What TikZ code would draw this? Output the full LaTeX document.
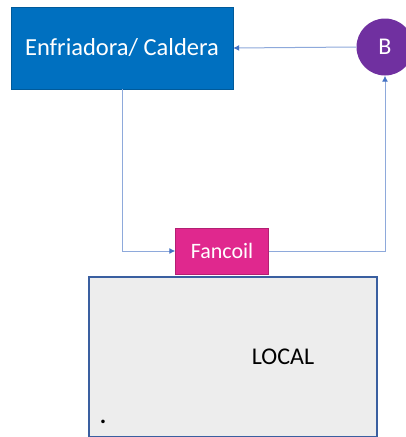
\documentclass[tikz,border=0pt]{standalone}
\usepackage{fontspec}
\setmainfont{Carlito}
\usetikzlibrary{arrows.meta}
\definecolor{azulcal}{HTML}{0070C0}
\definecolor{moradob}{HTML}{7030A0}
\definecolor{rosafc}{HTML}{E0288E}
\definecolor{lineaz}{HTML}{8EA9DB}
\definecolor{puntaz}{HTML}{4472C4}
\definecolor{bordloc}{HTML}{3A5FA0}
\definecolor{fondloc}{HTML}{EDEDED}
\begin{document}
\begin{tikzpicture}
[
 x=1pt, y=-1pt,
 inner sep=0pt,
 CALBOX/.style={rectangle, draw=azulcal!80!black, fill=azulcal, thin, minimum width=222pt, minimum height=82pt, text=white, font=\fontsize{24.5}{28}\selectfont},
 BCIRC/.style={circle, fill=moradob, minimum size=57pt, text=white, font=\fontsize{24}{28}\selectfont},
 FANBOX/.style={rectangle, draw=rosafc!80!black, fill=rosafc, thin, minimum width=93pt, minimum height=46pt, text=white, font=\fontsize{22}{26}\selectfont},
 LOCBOX/.style={rectangle, draw=bordloc, fill=fondloc, line width=2.2pt, minimum width=288pt, minimum height=160pt},
 PIPE/.style={draw=lineaz, line width=1pt, -{Latex[length=6pt,width=6pt,color=puntaz]}},
 ]
%
\useasboundingbox [fill=white] (0,0) rectangle (406,437);
%
\node [LOCBOX]  (LOC)  at (233,357)  {};
\node [font=\fontsize{24}{28}\selectfont]  (LT)  at (283,357)  {LOCAL};
\node [font=\fontsize{24}{28}\selectfont\bfseries]  (PT)  at (103,422)  {.};
%
\node [CALBOX]  (EC)   at (122,48)   {Enfriadora/ Caldera};
\node [BCIRC]   (B)    at (385,47)   {B};
\node [FANBOX]  (FC)   at (222,251)  {Fancoil};
%
\draw [PIPE]  (B.west)    -- (EC.east) ;
\draw [PIPE]  (EC.south)  |- (FC.west) ;
\draw [PIPE]  (FC.east)   -| (B.south) ;
%
\end{tikzpicture}
\end{document}
